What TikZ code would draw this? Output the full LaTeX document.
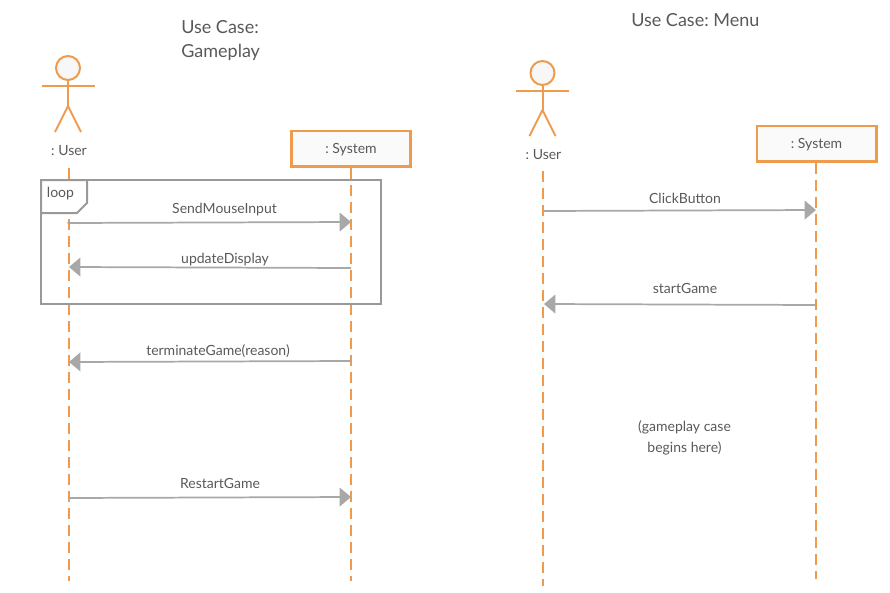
\documentclass[tikz,border=0pt]{standalone}
\usepackage{fontspec}
\setmainfont{Lato}
\usepackage{xcolor}
\usetikzlibrary{arrows.meta}
\definecolor{umlorange}{HTML}{EF9B4D}
\definecolor{umlgrey}{HTML}{999999}
\definecolor{umltext}{HTML}{595959}
\frenchspacing
\begin{document}
\begin{tikzpicture}[x=0.75pt,y=-0.75pt,
        title/.style = {text=umltext, font=\fontsize{13.5}{16}\selectfont, anchor=west, inner sep=0pt},
        label/.style = {text=umltext, font=\fontsize{10.5}{12}\selectfont, inner sep=0pt},
        head/.style = {draw=umlorange, line width=1.5pt, circle, fill=black!3, minimum size=18pt, inner sep=0pt},
        limb/.style = {draw=umlorange, line width=1.5pt},
        sysbox/.style = {draw=umlorange, line width=2pt, fill=black!2, minimum width=89.5pt, minimum height=26.5pt, inner sep=0pt, text=umltext, text height=9pt, text depth=2pt, font=\fontsize{10.5}{12}\selectfont},
        life/.style = {draw=umlorange, line width=1.5pt, dash pattern=on 8.5pt off 4.25pt},
        msg/.style = {draw=umlgrey!85, line width=1.3pt, -{Triangle[length=8.5pt,width=14pt]}},
        frame/.style = {draw=umlgrey, line width=1.5pt}]
        \useasboundingbox (0,0) rectangle (890,593);
        % titles
        \node[title] at (181,27.5) (titleA) {Use Case:};
        \node[title] at (181,52.5) (titleB) {Gameplay};
        \node[title] at (631,20.5) (titleC) {Use Case: Menu};
        % gameplay actor
        \node[head] at (68,68) (headA) {};
        \coordinate (hipA) at (68,106);
        \coordinate (armlA) at (42,86);
        \coordinate (armrA) at (95,86);
        \coordinate (footlA) at (55,132);
        \coordinate (footrA) at (81,132);
        \draw[limb] (headA) -- (hipA);
        \draw[limb] (armlA) -- (armrA);
        \draw[limb] (footlA) -- (hipA) -- (footrA);
        \node[label] at (69,150.5) (userA) {: User};
        \node[sysbox] at (351,148.5) (sysA) {: System};
        \coordinate (userAtop) at (68.5,168);
        \coordinate (userAend) at (68.5,581);
        \coordinate (sysAend) at (351,581);
        \draw[life] (userAtop) -- (userAend);
        \draw[life] (sysA) -- (sysAend);
        % loop frame
        \coordinate (loopA) at (41,180);
        \coordinate (loopB) at (380.5,303.5);
        \draw[frame] (loopA) rectangle (loopB);
        \coordinate (tabA) at (41,213);
        \coordinate (tabB) at (77,213);
        \coordinate (tabC) at (87,203);
        \coordinate (tabD) at (87,180);
        \draw[frame, fill=white] (loopA) -- (tabA) -- (tabB) -- (tabC) -- (tabD) -- cycle;
        \node[label] at (60.5,194) (loop) {loop};
        % gameplay messages
        \coordinate (u1) at (67.5,223);
        \coordinate (s1) at (351,222);
        \coordinate (u2) at (69,267);
        \coordinate (s2) at (351,268);
        \coordinate (u3) at (69,362);
        \coordinate (s3) at (351,361);
        \coordinate (u4) at (68.5,498);
        \coordinate (s4) at (351,497);
        \draw[msg] (u1) -- (s1);
        \draw[msg] (s2) -- (u2);
        \draw[msg] (s3) -- (u3);
        \draw[msg] (u4) -- (s4);
        \node[label] at (224.5,209.5) (m1) {SendMouseInput};
        \node[label] at (225,259.5) (m2) {updateDisplay};
        \node[label] at (218,351.5) (m3) {terminateGame(reason)};
        \node[label] at (220,483.5) (m4) {RestartGame};
        % menu actor
        \node[head] at (542.5,73) (headB) {};
        \coordinate (hipB) at (542.5,110);
        \coordinate (armlB) at (516,91);
        \coordinate (armrB) at (569,91);
        \coordinate (footlB) at (529.5,136);
        \coordinate (footrB) at (555.5,136);
        \draw[limb] (headB) -- (hipB);
        \draw[limb] (armlB) -- (armrB);
        \draw[limb] (footlB) -- (hipB) -- (footrB);
        \node[label] at (543.5,154.5) (userB) {: User};
        \node[sysbox] at (816.5,143.5) (sysB) {: System};
        \coordinate (userBtop) at (543,171);
        \coordinate (userBend) at (543,586);
        \coordinate (sysBtop) at (816,163);
        \coordinate (sysBend) at (816,579);
        \draw[life] (userBtop) -- (userBend);
        \draw[life] (sysBtop) -- (sysBend);
        % menu messages
        \coordinate (u5) at (543,211);
        \coordinate (s5) at (816,210);
        \coordinate (u6) at (544,304);
        \coordinate (s6) at (816,305);
        \draw[msg] (u5) -- (s5);
        \draw[msg] (s6) -- (u6);
        \node[label] at (685,198.5) (m5) {ClickButton};
        \node[label] at (685,288.5) (m6) {startGame};
        \node[label, align=center, font=\fontsize{10.5}{15.5}\selectfont] at (684.5,438) (note) {(gameplay case\\begins here)};
\end{tikzpicture}
\end{document}
